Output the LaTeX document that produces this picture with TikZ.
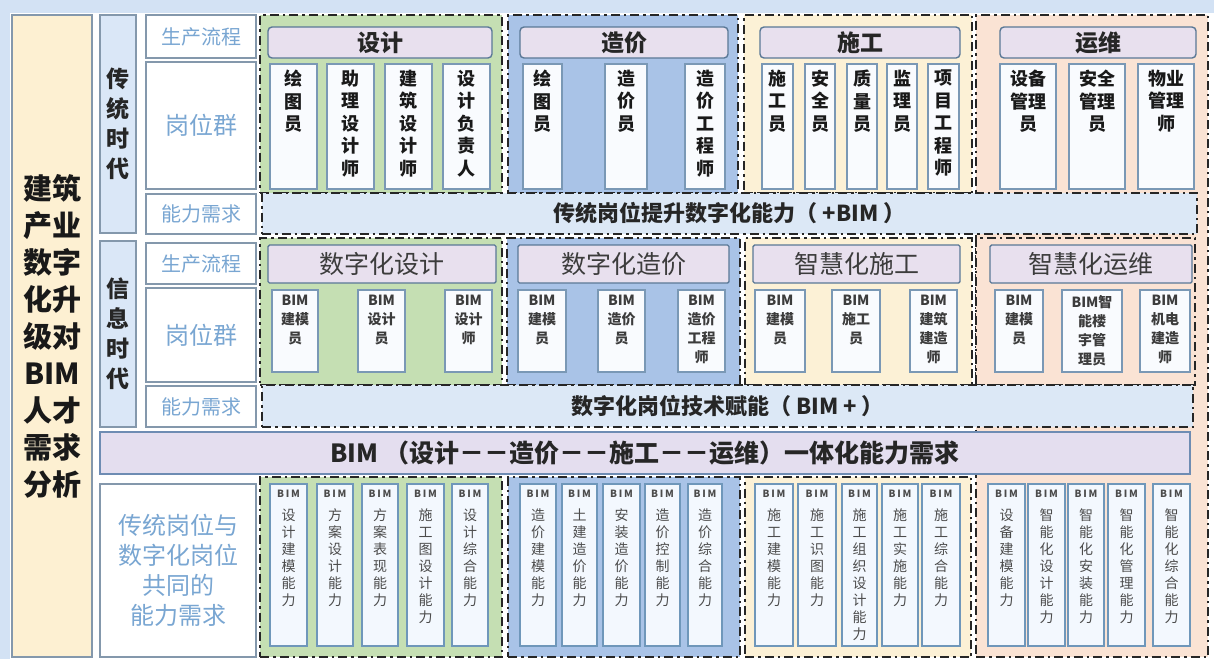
\documentclass[tikz,border=0pt]{standalone}
\usepackage{fontspec}
\setmainfont{Noto Sans CJK SC}
\usepackage{tikz}
\usetikzlibrary{positioning}

\definecolor{bgblue}{HTML}{D3E2F4}
\definecolor{leftfill}{HTML}{FDF0D2}
\definecolor{erafill}{HTML}{DAE7F7}
\definecolor{framec}{HTML}{8498AC}
\definecolor{labeltext}{HTML}{79A6D2}
\definecolor{gfill}{HTML}{C5DFB3}
\definecolor{bfill}{HTML}{A9C3E7}
\definecolor{yfill}{HTML}{FCF1D6}
\definecolor{pfill}{HTML}{FAE3D4}
\definecolor{headfill}{HTML}{E8E0EE}
\definecolor{headc}{HTML}{5A7896}
\definecolor{rolec}{HTML}{7A98B5}
\definecolor{rolefill}{HTML}{F9FBFE}
\definecolor{barfill}{HTML}{DCE8F6}
\definecolor{bimfill}{HTML}{E4DEEF}
\definecolor{bimc}{HTML}{6E8CB3}
\definecolor{capc}{HTML}{6F97BA}
\definecolor{capfill}{HTML}{F3F8FE}
\definecolor{textgray}{HTML}{3C3C3C}

\tikzstyle{plain}=[anchor=north west, inner sep=0pt, outer sep=0pt]
\tikzstyle{frame}=[style=plain, draw=framec, line width=1.6pt]
\tikzstyle{leftcol}=[style=frame, fill=leftfill, align=center,
    font=\bfseries\fontsize{29}{37}\selectfont, text=black!90]
\tikzstyle{era}=[style=frame, fill=erafill, align=center,
    font=\bfseries\fontsize{23}{30}\selectfont, text=black!85]
\tikzstyle{tag}=[style=frame, fill=white, align=center, text=labeltext,
    font=\fontsize{20}{24}\selectfont]
\tikzstyle{tagbig}=[style=tag, font=\fontsize{24}{30}\selectfont]
\tikzstyle{group}=[style=plain, draw=black!85, line width=2.2pt,
    dash pattern=on 9pt off 4pt on 2.5pt off 4pt]
\tikzstyle{bar}=[style=group, fill=barfill, text=black!85,
    font=\bfseries\fontsize{22}{24}\selectfont]
\tikzstyle{bimbar}=[style=plain, draw=bimc, fill=bimfill, line width=1.6pt,
    text=black!85, font=\bfseries\fontsize{25}{27}\selectfont]
\tikzstyle{head}=[style=plain, draw=headc, fill=headfill, line width=1.4pt,
    rounded corners=4pt, text=black!85, font=\bfseries\fontsize{23}{26}\selectfont]
\tikzstyle{headinfo}=[style=head, rounded corners=1.5pt, text=textgray,
    font=\fontsize{25}{28}\selectfont]
\tikzstyle{role}=[style=plain, draw=rolec, fill=rolefill, line width=1.4pt,
    text=black!90, font=\bfseries\fontsize{18}{22.5}\selectfont]
\tikzstyle{roleinfo}=[style=role, text=textgray, font=\bfseries\fontsize{14}{19}\selectfont]
\tikzstyle{abilitybox}=[style=plain, draw=capc, fill=capfill, line width=1.8pt,
    text=black!70, font=\fontsize{14}{17}\selectfont]

% box from its corners, in pixels
\newcommand{\pxnode}[6]{\node[#1, minimum width={(#4-#2)*1pt},
    minimum height={(#5-#3)*1pt}] (#6) at (#2,#3)}
% box with its text at the top
\newcommand{\rolebox}[8]{\pxnode{#1}{#2}{#3}{#4}{#5}{#6}
    {\parbox[c][\dimexpr#5pt-#3pt\relax][t]{\dimexpr#4pt-#2pt\relax}{\centering\vspace*{#7pt}#8\par}};}
\newcommand{\bimtag}{{\bfseries\fontsize{10}{12}\selectfont B\,I\,M\par}\vspace{6pt}}

\begin{document}
\begin{tikzpicture}[x=1pt, y=-1pt]
\useasboundingbox (0,0) rectangle (1214,659);
\fill[bgblue] (0,0) rectangle (1214,659);
\fill[white] (10,13) rectangle (1214,659);

% left side
\pxnode{leftcol}{12}{15}{92}{657}{title} {建筑\\产业\\数字\\化升\\级对\\BIM\\人才\\需求\\分析};
\pxnode{era}{100}{15}{136}{233}{eraold} {传\\统\\时\\代};
\pxnode{era}{100}{241}{136}{427}{eranew} {信\\息\\时\\代};
\pxnode{tag}{146}{15}{256}{58}{flowold} {生产流程};
\pxnode{tagbig}{146}{62}{256}{189}{postold} {岗位群};
\pxnode{tag}{146}{194}{256}{234}{needold} {能力需求};
\pxnode{tag}{146}{243}{256}{284}{flownew} {生产流程};
\pxnode{tagbig}{146}{288}{256}{382}{postnew} {岗位群};
\pxnode{tag}{146}{386}{256}{427}{neednew} {能力需求};
\pxnode{tagbig}{100}{484}{256}{657}{common} {传统岗位与\\数字化岗位\\共同的\\能力需求};

% column groups
\pxnode{group, fill=pfill}{976}{15}{1208}{657}{gops} {};
\pxnode{group, fill=gfill}{260}{15}{502}{193}{gdesign} {};
\pxnode{group, fill=bfill}{508}{15}{738}{193}{gcost} {};
\pxnode{group, fill=yfill}{744}{15}{972}{193}{gbuild} {};
\pxnode{group, fill=gfill}{260}{238}{502}{385}{gdesignnew} {};
\pxnode{group, fill=bfill}{507}{238}{740}{385}{gcostnew} {};
\pxnode{group, fill=yfill}{745}{238}{972}{385}{gbuildnew} {};
\pxnode{group, fill=pfill}{976}{238}{1195}{385}{gopsnew} {};
\pxnode{group, fill=gfill}{260}{477}{502}{657}{gdesigncap} {};
\pxnode{group, fill=bfill}{508}{477}{740}{657}{gcostcap} {};
\pxnode{group, fill=yfill}{745}{477}{971}{657}{gbuildcap} {};

% bars
\pxnode{bar}{262}{193}{1197}{234}{upgrade} {传统岗位提升数字化能力（ +BIM ）};
\pxnode{bar}{262}{385}{1193}{427}{empower} {数字化岗位技术赋能（ BIM + ）};
\pxnode{bimbar}{100}{432}{1190}{474}{whole} {BIM （设计－－造价－－施工－－运维）一体化能力需求};

% traditional era
\pxnode{head}{268}{27}{492}{58}{hdesign} {设计};
\pxnode{head}{520}{27}{728}{58}{hcost} {造价};
\pxnode{head}{760}{27}{960}{58}{hbuild} {施工};
\pxnode{head}{1000}{27}{1196}{58}{hops} {运维};
\foreach \xa/\xb/\txt [count=\i] in {270/317/{绘\\图\\员}, 327/374/{助\\理\\设\\计\\师},
    385/432/{建\\筑\\设\\计\\师}, 443/490/{设\\计\\负\\责\\人},
    523/562/{绘\\图\\员}, 605/647/{造\\价\\员}, 685/725/{造\\价\\工\\程\\师},
    762/793/{施\\工\\员}, 805/835/{安\\全\\员}, 847/877/{质\\量\\员},
    887/917/{监\\理\\员}, 928/959/{项\\目\\工\\程\\师},
    1000/1056/{设备\\管理\\员}, 1069/1125/{安全\\管理\\员}, 1138/1194/{物业\\管理\\师}}
  {\rolebox{role}{\xa}{64}{\xb}{189}{post\i}{6}{\txt}}

% information era
\pxnode{headinfo}{268}{245}{496}{283}{hdesignnew} {数字化设计};
\pxnode{headinfo}{518}{245}{729}{283}{hcostnew} {数字化造价};
\pxnode{headinfo}{753}{245}{960}{283}{hbuildnew} {智慧化施工};
\pxnode{headinfo}{990}{245}{1192}{283}{hopsnew} {智慧化运维};
\foreach \xa/\xb/\txt [count=\i] in {272/318/{BIM\\建模\\员}, 358/405/{BIM\\设计\\员},
    445/492/{BIM\\设计\\师}, 518/566/{BIM\\建模\\员}, 598/645/{BIM\\造价\\员},
    678/725/{BIM\\造价\\工程\\师}, 755/805/{BIM\\建模\\员}, 832/880/{BIM\\施工\\员},
    910/957/{BIM\\建筑\\建造\\师}, 995/1043/{BIM\\建模\\员},
    1062/1122/{BIM智\\能楼\\宇管\\理员}, 1140/1190/{BIM\\机电\\建造\\师}}
  {\rolebox{roleinfo}{\xa}{290}{\xb}{372}{postbim\i}{5}{\txt}}

% common abilities
\foreach \xa/\xb/\txt [count=\i] in {270/307/{设\\计\\建\\模\\能\\力}, 317/353/{方\\案\\设\\计\\能\\力},
    362/398/{方\\案\\表\\现\\能\\力}, 407/444/{施\\工\\图\\设\\计\\能\\力}, 452/488/{设\\计\\综\\合\\能\\力},
    520/556/{造\\价\\建\\模\\能\\力}, 562/597/{土\\建\\造\\价\\能\\力}, 603/640/{安\\装\\造\\价\\能\\力},
    645/680/{造\\价\\控\\制\\能\\力}, 688/722/{造\\价\\综\\合\\能\\力},
    755/793/{施\\工\\建\\模\\能\\力}, 798/836/{施\\工\\识\\图\\能\\力}, 842/877/{施\\工\\组\\织\\设\\计\\能\\力},
    882/918/{施\\工\\实\\施\\能\\力}, 922/960/{施\\工\\综\\合\\能\\力},
    988/1025/{设\\备\\建\\模\\能\\力}, 1028/1065/{智\\能\\化\\设\\计\\能\\力}, 1068/1104/{智\\能\\化\\安\\装\\能\\力},
    1108/1145/{智\\能\\化\\管\\理\\能\\力}, 1153/1190/{智\\能\\化\\综\\合\\能\\力}}
  {\rolebox{abilitybox}{\xa}{484}{\xb}{646}{ability\i}{6}{\bimtag\txt}}
\end{tikzpicture}
\end{document}
